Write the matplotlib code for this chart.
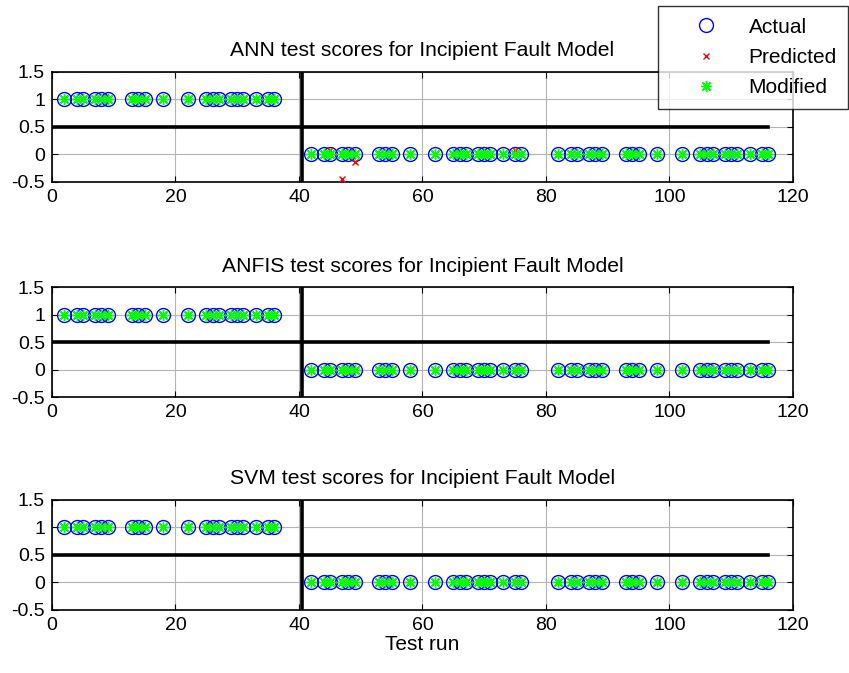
import matplotlib
matplotlib.use('Agg')
import matplotlib.pyplot as plt

plt.rcParams['font.family'] = ['Liberation Sans', 'DejaVu Sans']
plt.rcParams['font.size'] = 14

# test run numbers (fault cases first, then healthy cases)
test_run = [2, 4, 5, 7, 8, 9, 13, 14, 15, 18, 22, 25, 26, 27, 29, 30, 31, 33, 35, 36,
            42, 44, 45, 47, 48, 49, 53, 54, 55, 58, 62, 65, 66, 67, 69, 70, 71, 73, 75, 76,
            82, 84, 85, 87, 88, 89, 93, 94, 95, 98, 102, 105, 106, 107, 109, 110, 111, 113, 115, 116]

actual = [1, 1, 1, 1, 1, 1, 1, 1, 1, 1, 1, 1, 1, 1, 1, 1, 1, 1, 1, 1,
          0, 0, 0, 0, 0, 0, 0, 0, 0, 0, 0, 0, 0, 0, 0, 0, 0, 0, 0, 0,
          0, 0, 0, 0, 0, 0, 0, 0, 0, 0, 0, 0, 0, 0, 0, 0, 0, 0, 0, 0]

ann_pred = [1, 1, 1, 1, 1, 1, 1, 1, 1, 1, 1, 1, 1, 1, 1, 1, 1, 1, 1, 1,
            0, 0, 0.08, -0.45, 0, -0.15, 0, 0, 0, 0, 0, 0, 0, 0, 0, 0, 0, 0, 0.08, 0,
            0, 0, 0, 0, 0, 0, 0, 0, 0, 0, 0, 0, 0, 0, 0, 0, 0, 0, 0, 0]
anfis_pred = list(actual)
svm_pred = list(actual)

titles = ['ANN test scores for Incipient Fault Model',
          'ANFIS test scores for Incipient Fault Model',
          'SVM test scores for Incipient Fault Model']
predictions = [ann_pred, anfis_pred, svm_pred]

# MATLAB-style line asterisk
star = (8, 2, 0)

fig = plt.figure(figsize=(8.49, 6.73), dpi=100)
bottoms = [0.730, 0.410, 0.094]
axes = []
for b in bottoms:
    axes.append(fig.add_axes([0.0612, b, 0.8728, 0.1635]))

for ax, title, pred in zip(axes, titles, predictions):
    modified = [round(v) for v in pred]
    ax.plot([0, 116], [0.5, 0.5], color='k', lw=2.6, zorder=2)
    ax.plot([40.5, 40.5], [-0.5, 1.5], color='k', lw=2.6, zorder=2)
    h1, = ax.plot(test_run, actual, 'o', mfc='none', mec=(0, 0, 1), ms=10, mew=1.0, zorder=3, label='Actual')
    h2, = ax.plot(test_run, pred, 'x', color=(1, 0, 0), ms=5, mew=1.0, zorder=4, label='Predicted')
    h3, = ax.plot(test_run, modified, marker=star, ls='none', color=(0, 1, 0), ms=8, mew=1.0,
                  zorder=5, label='Modified')
    ax.set_xlim(0, 120)
    ax.set_ylim(-0.5, 1.5)
    ax.set_xticks([0, 20, 40, 60, 80, 100, 120])
    ax.set_yticks([-0.5, 0, 0.5, 1, 1.5])
    ax.set_yticklabels(['-0.5', '0', '0.5', '1', '1.5'])
    ax.grid(True, color='#b4b4b4', lw=0.8)
    ax.set_axisbelow(True)
    ax.tick_params(direction='in', length=4, top=True, right=True, labelsize=14, pad=5)
    for s in ax.spines.values():
        s.set_linewidth(1.2)
    ax.set_title(title, fontsize=15.2, pad=11)

axes[2].set_xlabel('Test run', fontsize=15, labelpad=1)

leg = fig.legend(handles=[h1, h2, h3], loc='upper left', bbox_to_anchor=(0.775, 0.991),
                 fontsize=15, frameon=True, fancybox=False, edgecolor='k',
                 borderpad=0.55, labelspacing=0.55, handletextpad=0.3, handlelength=3.5,
                 borderaxespad=0)
leg.get_frame().set_linewidth(1.0)

fig.savefig('out.png', dpi=100)
